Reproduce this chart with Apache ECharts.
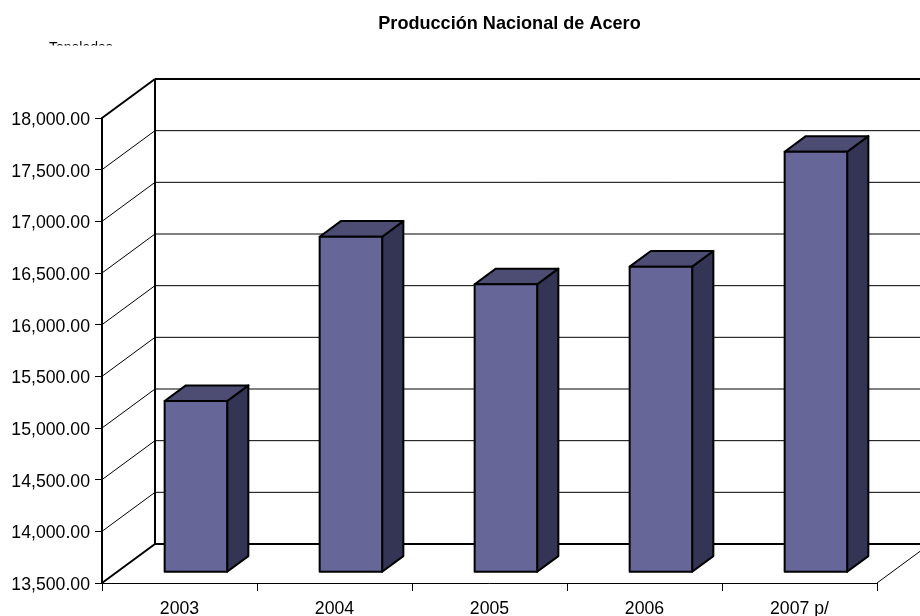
<!DOCTYPE html>
<html><head><meta charset="utf-8">
<style>html,body{margin:0;padding:0;background:#fff}#c{width:920px;height:616px}</style>
<script src="https://cdn.jsdelivr.net/npm/echarts@6/dist/echarts.min.js"></script>
</head><body><div id="c"></div>
<script>
const categories = ['2003','2004','2005','2006','2007 p/'];
const production = [15152,16742,16282,16452,17564];
const valueTicks = [13500,14000,14500,15000,15500,16000,16500,17000,17500,18000];
const chartTitle = 'Producción Nacional de Acero';
const unitLabel = 'Toneladas';

const FONT = '"Liberation Sans", Arial, sans-serif';
const DX = 53, DY = -39;               // full depth of the 3D box
const BAR_FX = 16.4, BAR_FY = -11.3, BAR_DX = 21.2, BAR_DY = -15.6, BAR_W = 62.5;
const FRONT = '#666699', SIDE = '#343454', TOP = '#4d4d74';

const chart = echarts.init(document.getElementById('c'), null, {renderer:'canvas'});

function line(x1,y1,x2,y2,w){
  return {type:'line',shape:{x1,y1,x2,y2},style:{stroke:'#000',lineWidth:w},silent:true};
}
function renderWall(params, api){
  const cs = params.coordSys, v = api.value(0), y = api.coord([0,v])[1];
  const x0 = cs.x, x1 = cs.x + cs.width;
  const edge = (v===valueTicks[0]||v===valueTicks[valueTicks.length-1]);
  const w = edge ? 2 : 1;
  const kids = [
    line(x0,y,x0+DX,y+DY,edge?2:1),
    line(x0+DX,y+DY,x1+DX,y+DY,w)
  ];
  if(v===valueTicks[0]){
    kids.push(line(x1,y,x1+DX,y+DY,1));
    kids.push(line(x0+DX,y+DY,x0+DX,cs.y+DY,2));
  }
  return {type:'group',children:kids};
}
function renderBar(params, api){
  const c = api.coord([api.value(0),api.value(1)]);
  const base = api.coord([api.value(0),valueTicks[0]]);
  const l = c[0]-BAR_W/2+BAR_FX, r = l+BAR_W, t = c[1]+BAR_FY, b = base[1]+BAR_FY;
  const st = f=>({fill:f,stroke:'#000',lineWidth:2,lineJoin:'round'});
  return {type:'group',children:[
    {type:'polygon',shape:{points:[[r,t],[r+BAR_DX,t+BAR_DY],[r+BAR_DX,b+BAR_DY],[r,b]]},style:st(SIDE)},
    {type:'polygon',shape:{points:[[l,t],[l+BAR_DX,t+BAR_DY],[r+BAR_DX,t+BAR_DY],[r,t]]},style:st(TOP)},
    {type:'rect',shape:{x:l,y:t,width:BAR_W,height:b-t},style:st(FRONT)}
  ]};
}
chart.setOption({
  animation:false,
  backgroundColor:'#fff',
  title:{text:chartTitle,left:504.5,top:10,textAlign:'center',
    textStyle:{fontFamily:FONT,fontSize:18.1,fontWeight:'bold',color:'#000'}},
  grid:{left:102,right:43,top:118,bottom:33,outerBoundsMode:'none'},
  xAxis:{type:'category',data:categories,boundaryGap:true,
    axisLine:{lineStyle:{color:'#000',width:1}},
    axisTick:{show:true,alignWithLabel:false,length:8,lineStyle:{color:'#000',width:1}},
    axisLabel:{fontFamily:FONT,fontSize:17.7,color:'#000',margin:17,interval:0},
    splitLine:{show:false}},
  yAxis:{type:'value',min:13500,max:18000,interval:500,
    axisLine:{show:true,lineStyle:{color:'#000',width:2}},
    axisTick:{show:true,length:7,lineStyle:{color:'#000',width:1}},
    axisLabel:{fontFamily:FONT,fontSize:17.7,color:'#000',margin:12,
      formatter:v=>'{n|'+v.toLocaleString('en-US',{minimumFractionDigits:2,maximumFractionDigits:2})+'}',
      rich:{n:{fontFamily:FONT,fontSize:17.7,color:'#000',padding:[4,0,0,0]}}},
    splitLine:{show:false}},
  series:[
    {type:'custom',name:'wall',renderItem:renderWall,coordinateSystem:'cartesian2d',
     clip:false,data:valueTicks.map(v=>[v]),encode:{y:0},z:1,silent:true},
    {type:'custom',name:'Producción',renderItem:renderBar,coordinateSystem:'cartesian2d',
     clip:false,data:production.map((v,i)=>[i,v]),encode:{x:0,y:1},z:3,silent:true}
  ],
  graphic:[
    {type:'text',left:49,top:41,z:10,style:{text:unitLabel,fontFamily:FONT,fontSize:14,fill:'#000'}},
    {type:'rect',left:40,top:45.5,z:11,shape:{width:90,height:20},style:{fill:'#fff'},silent:true}
  ]
});
</script></body></html>
